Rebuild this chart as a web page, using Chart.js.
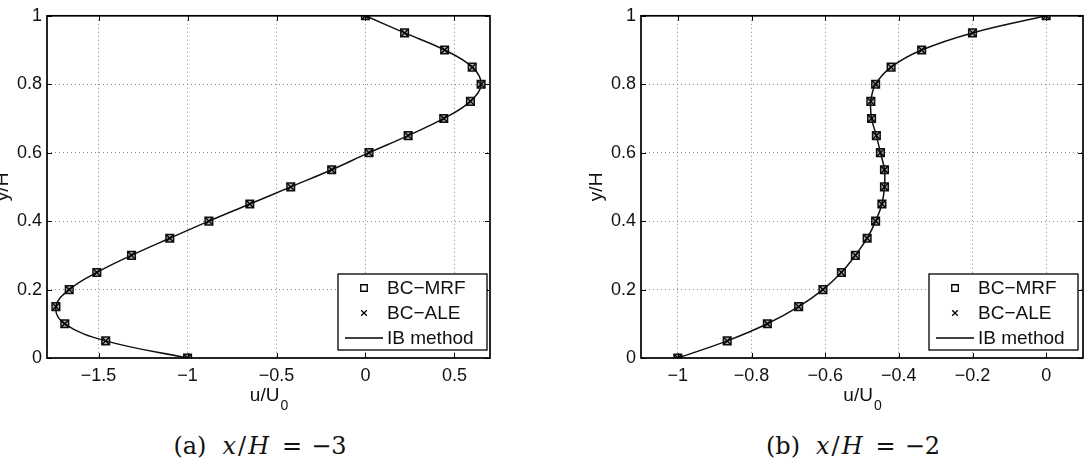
<!DOCTYPE html>
<html><head><meta charset="utf-8">
<script src="https://cdn.jsdelivr.net/npm/chart.js@4"></script>
<style>
html,body{margin:0;padding:0;background:#fff;width:1092px;height:473px;overflow:hidden;}
.wrap{position:absolute;top:0;width:546px;height:420px;}
.cap{position:absolute;top:432px;font-family:"DejaVu Serif","Liberation Serif",serif;font-size:24px;line-height:28px;color:#111;white-space:nowrap;transform:translateX(-50%);}
.cap i{font-style:italic;}
</style></head><body>
<div class="wrap" style="left:0"><canvas id="cA" width="546" height="420"></canvas></div>
<div class="wrap" style="left:546px"><canvas id="cB" width="546" height="420"></canvas></div>
<div class="cap" style="left:260px">(a)<span style="margin-left:16px"><i>x</i><span style="margin:0 2px">/</span><i>H</i></span><span style="margin:0 9px 0 13px">=</span>−3</div>
<div class="cap" style="left:853px">(b)<span style="margin-left:16px"><i>x</i><span style="margin:0 2px">/</span><i>H</i></span><span style="margin:0 9px 0 13px">=</span>−2</div>
<script>
// ---- data ----
const seriesLabels = ['BC−MRF', 'BC−ALE', 'IB method'];
const yPos = [0, 0.05, 0.1, 0.15, 0.2, 0.25, 0.3, 0.35, 0.4, 0.45, 0.5, 0.55, 0.6, 0.65, 0.7, 0.75, 0.8, 0.85, 0.9, 0.95, 1];
// (a) x/H = -3
const uA_MRF = [-1.00, -1.46, -1.69, -1.74, -1.665, -1.51, -1.315, -1.10, -0.88, -0.65, -0.42, -0.19, 0.02, 0.24, 0.44, 0.59, 0.65, 0.60, 0.445, 0.22, 0.00];
const uA_ALE = [-1.00, -1.46, -1.69, -1.74, -1.665, -1.51, -1.315, -1.10, -0.88, -0.65, -0.42, -0.19, 0.02, 0.24, 0.44, 0.59, 0.65, 0.60, 0.445, 0.22, 0.00];
const uA_IB  = [-1.00, -1.46, -1.69, -1.74, -1.665, -1.51, -1.315, -1.10, -0.88, -0.65, -0.42, -0.19, 0.02, 0.24, 0.44, 0.59, 0.65, 0.60, 0.445, 0.22, 0.00];
// (b) x/H = -2
const uB_MRF = [-1.00, -0.866, -0.757, -0.672, -0.606, -0.556, -0.518, -0.486, -0.463, -0.446, -0.439, -0.439, -0.450, -0.461, -0.474, -0.476, -0.463, -0.421, -0.338, -0.200, 0.00];
const uB_ALE = [-1.00, -0.866, -0.757, -0.672, -0.606, -0.556, -0.518, -0.486, -0.463, -0.446, -0.439, -0.439, -0.450, -0.461, -0.474, -0.476, -0.463, -0.421, -0.338, -0.200, 0.00];
const uB_IB  = [-1.00, -0.866, -0.757, -0.672, -0.606, -0.556, -0.518, -0.486, -0.463, -0.446, -0.439, -0.439, -0.450, -0.461, -0.474, -0.476, -0.463, -0.421, -0.338, -0.200, 0.00];
// ticks
const yTicks = [0, 0.2, 0.4, 0.6, 0.8, 1];
const xTicksA = [-1.5, -1, -0.5, 0, 0.5];
const xTicksB = [-1, -0.8, -0.6, -0.4, -0.2, 0];
const xTitle = ['u/U', '0'];
const yTitle = 'y/H';

const FONT = '"Liberation Sans", Arial, Helvetica, sans-serif';
const TXT = '#111';

function fmt(v) { return String(Math.round(v * 100) / 100).replace('-', '−'); }
function pts(u) { return u.map((x, i) => ({ x: x, y: yPos[i] })); }

const decor = {
  id: 'decor',
  afterDatasetsDraw(chart, args, o) {
    const ctx = chart.ctx, ca = chart.chartArea;
    const xs = chart.scales.x, ys = chart.scales.y;
    ctx.save();
    // inward ticks
    ctx.strokeStyle = '#000'; ctx.lineWidth = 1;
    ctx.beginPath();
    xs.ticks.forEach(t => {
      const p = Math.round(xs.getPixelForValue(t.value)) + 0.5;
      ctx.moveTo(p, ca.bottom); ctx.lineTo(p, ca.bottom - 5);
      ctx.moveTo(p, ca.top); ctx.lineTo(p, ca.top + 5);
    });
    ys.ticks.forEach(t => {
      const p = Math.round(ys.getPixelForValue(t.value)) + 0.5;
      ctx.moveTo(ca.left, p); ctx.lineTo(ca.left + 5, p);
      ctx.moveTo(ca.right, p); ctx.lineTo(ca.right - 5, p);
    });
    ctx.stroke();
    // frame
    ctx.lineWidth = 1.7;
    ctx.strokeRect(ca.left, ca.top, ca.right - ca.left, ca.bottom - ca.top);
    // legend
    const bw = 149, bh = 76;
    const bx = ca.right - o.lr - bw, by = ca.bottom - 8 - bh;
    ctx.fillStyle = '#fff';
    ctx.fillRect(bx, by, bw, bh);
    ctx.lineWidth = 1.3; ctx.strokeStyle = '#000';
    ctx.strokeRect(bx, by, bw, bh);
    chart.data.datasets.forEach((ds, i) => {
      const cy = by + 14 + 25 * i;
      ctx.strokeStyle = '#000'; ctx.fillStyle = 'rgba(0,0,0,0)';
      if (ds.showLine) {
        ctx.lineWidth = 1.3;
        ctx.beginPath(); ctx.moveTo(bx + 7, cy); ctx.lineTo(bx + 45, cy); ctx.stroke();
      } else {
        Chart.helpers.drawPoint(ctx, { pointStyle: ds.pointStyle, radius: ds.pointStyle === 'rect' ? 4.6 : 4, borderWidth: 1.3, rotation: 0 }, bx + 26, cy);
      }
      ctx.fillStyle = TXT;
      ctx.font = '19px ' + FONT;
      ctx.textAlign = 'left'; ctx.textBaseline = 'middle';
      ctx.fillText(ds.label, bx + 49, cy + 1);
    });
    // axis titles
    ctx.fillStyle = TXT;
    ctx.font = '19px ' + FONT;
    const w1 = ctx.measureText(xTitle[0]).width;
    ctx.font = '14px ' + FONT;
    const w2 = ctx.measureText(xTitle[1]).width;
    const cx = (ca.left + ca.right) / 2 - (w1 + w2) / 2;
    ctx.textAlign = 'left'; ctx.textBaseline = 'alphabetic';
    ctx.font = '19px ' + FONT;
    ctx.fillText(xTitle[0], cx, ca.bottom + 43);
    ctx.font = '14px ' + FONT;
    ctx.fillText(xTitle[1], cx + w1 + 1, ca.bottom + 52);
    ctx.save();
    ctx.translate(ca.left - 44, (ca.top + ca.bottom) / 2);
    ctx.rotate(-Math.PI / 2);
    ctx.font = '19px ' + FONT;
    ctx.textAlign = 'center'; ctx.textBaseline = 'middle';
    ctx.fillText(yTitle, 0, 0);
    ctx.restore();
    ctx.restore();
  }
};

const bgPlugin = {
  id: 'bg',
  beforeDraw(chart) {
    const ctx = chart.ctx; ctx.save(); ctx.fillStyle = '#fff';
    ctx.fillRect(0, 0, chart.width, chart.height); ctx.restore();
  }
};

function makeChart(id, mrf, ale, ib, xMin, xMax, xTicks, yAxisW, padRight, legRight) {
  return new Chart(document.getElementById(id), {
    type: 'scatter',
    data: {
      datasets: [
        { label: seriesLabels[0], data: pts(mrf), showLine: false, pointStyle: 'rect', pointRadius: 5.4, pointBorderWidth: 1.5,
          borderColor: '#111', backgroundColor: 'rgba(0,0,0,0.32)', order: 2 },
        { label: seriesLabels[1], data: pts(ale), showLine: false, pointStyle: 'crossRot', pointRadius: 5, pointBorderWidth: 1.3,
          borderColor: '#000', backgroundColor: '#000', order: 1 },
        { label: seriesLabels[2], data: pts(ib), showLine: true, pointRadius: 0, borderColor: '#111', borderWidth: 1.5,
          tension: 0.4, fill: false, order: 3 }
      ]
    },
    options: {
      responsive: false, animation: false, devicePixelRatio: 1,
      layout: { padding: { left: 0, top: 13, right: padRight, bottom: 0 } },
      plugins: { legend: { display: false }, tooltip: { enabled: false }, decor: { lr: legRight } },
      scales: {
        x: {
          type: 'linear', min: xMin, max: xMax,
          afterBuildTicks: s => { s.ticks = xTicks.map(v => ({ value: v })); },
          afterFit: s => { s.height = 62; },
          ticks: { callback: v => fmt(v), font: { size: 18, family: FONT }, color: TXT, padding: 7, maxRotation: 0, autoSkip: false },
          grid: { color: '#8a8a8a', lineWidth: 1, drawTicks: false },
          border: { display: false, dash: [1, 3] }
        },
        y: {
          type: 'linear', min: 0, max: 1,
          afterBuildTicks: s => { s.ticks = yTicks.map(v => ({ value: v })); },
          afterFit: s => { s.width = yAxisW; },
          ticks: { callback: v => fmt(v), font: { size: 18, family: FONT }, color: TXT, padding: 5, autoSkip: false },
          grid: { color: '#8a8a8a', lineWidth: 1, drawTicks: false },
          border: { display: false, dash: [1, 3] }
        }
      }
    },
    plugins: [bgPlugin, decor]
  });
}

makeChart('cA', uA_MRF, uA_ALE, uA_IB, -1.79, 0.7, xTicksA, 47, 56, 3);
makeChart('cB', uB_MRF, uB_ALE, uB_IB, -1.1, 0.1, xTicksB, 95, 9, 5);
</script>
</body></html>
